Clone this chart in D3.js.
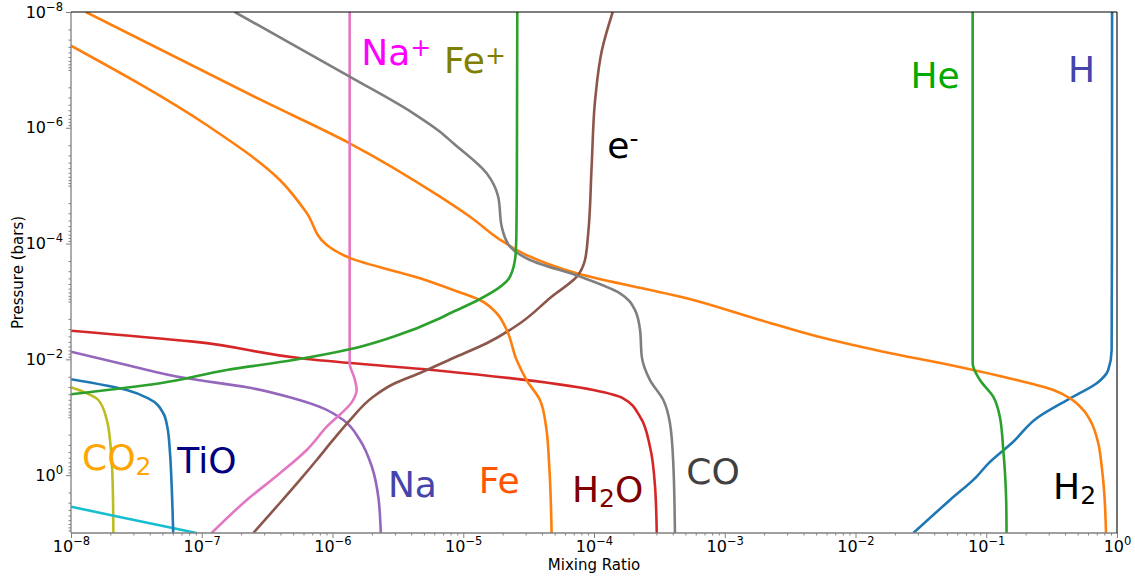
<!DOCTYPE html>
<html><head><meta charset="utf-8">
<script src="https://cdn.jsdelivr.net/npm/d3@7"></script>
<style>
body{margin:0;background:#fff}
svg text{font-family:"DejaVu Sans",sans-serif}
</style>
</head><body>
<svg id="chart" width="1135" height="576"></svg>
<script>
// ---- data: [mixing ratio, pressure (bars)] ----
const xTickExps = [-8,-7,-6,-5,-4,-3,-2,-1,0];
const yTickExps = [-8,-6,-4,-2,0];
const xDomain = [1e-8, 1];
const yDomain = [1e-8, 10];

const H = [[0.917,1e-8],[0.915,1e-4],[0.910,6.90e-3],[0.857,1.53e-2],[0.700,2.59e-2],[0.438,4.71e-2],[0.243,0.104],[0.161,0.265],[0.104,0.625],[8.45e-2,1.06],[5.28e-2,2.69],[2.77e-2,10]];
const H2 = [[1.30e-8,1e-8],[2.94e-7,3.44e-7],[1.353e-6,1.853e-6],[6.64e-6,1.55e-5],[1.126e-5,3.44e-5],[2.02e-5,9.29e-5],[3.05e-5,1.58e-4],[7.38e-5,3.27e-4],[5.12e-4,8.83e-4],[1.86e-3,2.09e-3],[5.05e-3,4.0e-3],[1.63e-2,7.38e-3],[5.28e-2,1.25e-2],[0.171,2.28e-2],[0.326,3.39e-2],[0.438,4.71e-2],[0.552,7.50e-2],[0.640,0.127],[0.719,0.282],[0.764,0.716],[0.796,1.81],[0.824,10]];
const He = [[7.87e-2,1e-8],[7.87e-2,1e-4],[7.87e-2,1.17e-2],[8.95e-2,2.28e-2],[0.113,4.42e-2],[0.127,9.80e-2],[0.135,0.368],[0.142,2.69],[0.143,10]];
const H2O = [[1e-8,3.20e-3],[8.61e-8,4.95e-3],[6.35e-7,9.86e-3],[6.64e-6,1.57e-2],[9.89e-5,3.39e-2],[1.67e-4,4.71e-2],[2.25e-4,9.80e-2],[2.68e-4,0.323],[2.93e-4,1.58],[3.02e-4,10]];
const Na = [[1e-8,7.38e-3],[2.67e-8,1.25e-2],[7.67e-8,2.13e-2],[2.21e-7,3.04e-2],[5.01e-7,4.71e-2],[8.51e-7,7.02e-2],[1.21e-6,0.112],[1.62e-6,0.247],[2.00e-6,0.716],[2.24e-6,2.36],[2.34e-6,10]];
const eMinus = [[1.39e-4,1e-8],[1.15e-4,4.53e-8],[1.02e-4,3.31e-7],[9.59e-5,4.70e-6],[9.03e-5,6.65e-5],[8.53e-5,1.92e-4],[7.38e-5,3.73e-4],[4.74e-5,8.28e-4],[2.72e-5,2.38e-3],[1.51e-5,5.28e-3],[8.40e-6,9.48e-3],[4.67e-6,1.72e-2],[2.92e-6,2.67e-2],[2.05e-6,4.42e-2],[1.36e-6,0.112],[1.01e-6,0.247],[7.57e-7,0.548],[5.64e-7,1.21],[3.74e-7,3.51],[2.48e-7,10]];
const NaPlus = [[1.353e-6,1e-8],[1.353e-6,1e-4],[1.353e-6,1.17e-2],[1.47e-6,2.10e-2],[1.53e-6,3.39e-2],[1.44e-6,5.04e-2],[9.04e-7,0.146],[6.35e-7,0.368],[3.96e-7,0.931],[2.21e-7,2.69],[1.19e-7,10]];
const CO = [[1.79e-7,1e-8],[1.353e-6,1.31e-7],[4.15e-6,5.62e-7],[6.64e-6,1.17e-6],[8.40e-6,1.853e-6],[1.51e-5,6.11e-6],[1.85e-5,1.55e-5],[1.97e-5,5.12e-5],[2.28e-5,1.13e-4],[3.24e-5,1.92e-4],[7.82e-5,3.73e-4],[1.58e-4,7.23e-4],[2.06e-4,1.41e-3],[2.25e-4,3.11e-3],[2.32e-4,8.99e-3],[2.68e-4,2.28e-2],[3.39e-4,5.04e-2],[3.81e-4,0.127],[4.04e-4,0.625],[4.16e-4,10]];
const CO2 = [[1e-8,3.04e-2],[1.24e-8,3.62e-2],[1.62e-8,5.04e-2],[1.88e-8,0.112],[2.01e-8,0.323],[2.08e-8,1.21],[2.11e-8,10]];
const TiO2 = [[1e-8,3.51],[1.99e-8,4.88],[9.14e-8,10]];
const TiO = [[1e-8,2.21e-2],[2.67e-8,3.39e-2],[3.90e-8,4.71e-2],[5.08e-8,8.55e-2],[5.45e-8,0.146],[5.72e-8,0.420],[5.89e-8,1.58],[6.05e-8,10]];
const Fe = [[1e-8,3.82e-8],[1.09e-7,8.95e-7],[3.96e-7,7.98e-6],[6.35e-7,2.96e-5],[9.04e-7,1.06e-4],[1.353e-6,1.77e-4],[4.67e-6,3.98e-4],[8.40e-6,6.34e-4],[1.34e-5,9.44e-4],[1.80e-5,1.60e-3],[2.15e-5,3.11e-3],[2.56e-5,1.03e-2],[3.05e-5,2.28e-2],[3.86e-5,5.04e-2],[4.30e-5,0.146],[4.55e-5,0.716],[4.74e-5,10]];
const FePlus = [[2.59e-5,1e-8],[2.57e-5,1e-5],[2.55e-5,6.58e-5],[2.52e-5,1.46e-4],[2.28e-5,3.73e-4],[1.30e-5,9.44e-4],[7.93e-6,1.60e-3],[6.64e-6,1.95e-3],[2.92e-6,4.06e-3],[1.353e-6,6.71e-3],[5.01e-7,1.03e-2],[1.55e-7,1.53e-2],[4.80e-8,2.59e-2],[1e-8,4.02e-2]];

// plotting order (matplotlib colour cycle order)
const seriesList = [H, H2, He, H2O, Na, eMinus, NaPlus, CO, CO2, TiO2, TiO, Fe, FePlus];

// label texts: [main, script, kind]  and anchor (mixing ratio, pressure)
const labelTexts = [["Na","+","sup"],["Fe","+","sup"],["e","-","sup"],["He","",""],["H","",""],["CO","2","sub"],["TiO","",""],["Na","",""],["Fe","",""],["H","2","subO"],["CO","",""],["H","2","sub"]];
const labelAt = [[1.72e-6,8.23e-8],[7.38e-6,1.12e-7],[1.31e-4,3.37e-6],[2.73e-2,2.08e-7],[0.438,1.60e-7],[1.26e-8,0.815],[6.73e-8,0.908],[2.75e-6,2.42],[1.36e-5,2.06],[7.03e-5,2.88],[5.26e-4,1.42],[0.336,2.62]];

// ---- styles ----
const palette = ["#1f77b4","#ff7f0e","#2ca02c","#d62728","#9467bd","#8c564b","#e377c2","#7f7f7f","#bcbd22","#17becf"];
const labelColors = ["#ff00ff","#808000","#000000","#00aa00","#4444aa","#ffa500","#000080","#4444aa","#ff5500","#800000","#404040","#000000"];

const W = 1135, Hh = 576;
const m = {left:71, top:12, right:1117, bottom:533};
const svg = d3.select("#chart");
const x = d3.scaleLog().domain(xDomain).range([m.left, m.right]);
const y = d3.scaleLog().domain(yDomain).range([m.top, m.bottom]);

svg.append("defs").append("clipPath").attr("id","clip")
  .append("rect").attr("x",m.left).attr("y",m.top).attr("width",m.right-m.left).attr("height",m.bottom-m.top);

const line = d3.line().x(d=>x(d[0])).y(d=>y(d[1])).curve(d3.curveMonotoneY);
const g = svg.append("g").attr("clip-path","url(#clip)");
seriesList.forEach((s,i)=>{
  g.append("path").attr("d",line(s)).attr("fill","none")
   .attr("stroke",palette[i%10]).attr("stroke-width",2.6)
   .attr("stroke-linejoin","round").attr("stroke-linecap","butt");
});

// labels
const lg = svg.append("g");
labelTexts.forEach((lt,i)=>{
  const t = lg.append("text").attr("x",x(labelAt[i][0])-2).attr("y",y(labelAt[i][1]))
    .attr("fill",labelColors[i]).attr("font-size",36);
  t.append("tspan").text(lt[0]);
  if(lt[2]==="sup"){
    t.append("tspan").attr("font-size",25).attr("dy", lt[1]==="-" ? -11 : -9).text(lt[1]);
  } else if(lt[2]==="sub"){
    t.append("tspan").attr("font-size",25).attr("dy",5).text(lt[1]);
  } else if(lt[2]==="subO"){
    t.append("tspan").attr("font-size",25).attr("dy",5).text(lt[1]);
    t.append("tspan").attr("dy",-5).text("O");
  }
});

// axes
function sciLabel(sel){
  sel.each(function(d){
    const t = d3.select(this);
    const e = Math.round(Math.log10(d));
    t.text(null);
    t.append("tspan").text("10");
    t.append("tspan").attr("font-size","11.5px").attr("dy","-0.62em").text(e<0 ? "\u2212"+(-e) : String(e));
  });
}
const xMajor = xTickExps.map(e=>Math.pow(10,e));
const yMajor = yTickExps.map(e=>Math.pow(10,e));
const xMinor = [], yMinor = [];
for(let e=-8;e<0;e++) for(let k=2;k<=9;k++) xMinor.push(k*Math.pow(10,e));
for(let e=-8;e<1;e++) for(let k=(yTickExps.includes(e)?2:1);k<=9;k++){ const v=k*Math.pow(10,e); if(v<=10) yMinor.push(v);}

const axisColor = "#808080";
const gxMinor = svg.append("g").attr("transform",`translate(0,${m.bottom})`)
  .call(d3.axisBottom(x).tickValues(xMinor).tickSize(2.5).tickFormat(""));
const gx = svg.append("g").attr("transform",`translate(0,${m.bottom})`)
  .call(d3.axisBottom(x).tickValues(xMajor).tickSize(5).tickPadding(3));
gx.selectAll(".tick text").attr("font-size",16).attr("fill","#000").call(sciLabel);

const gyMinor = svg.append("g").attr("transform",`translate(${m.left},0)`)
  .call(d3.axisLeft(y).tickValues(yMinor).tickSize(2.5).tickFormat(""));
const gy = svg.append("g").attr("transform",`translate(${m.left},0)`)
  .call(d3.axisLeft(y).tickValues(yMajor).tickSize(5).tickPadding(3));
gy.selectAll(".tick text").attr("font-size",16).attr("fill","#000").call(sciLabel);

[gxMinor,gx,gyMinor,gy].forEach(a=>{
  a.select(".domain").remove();
  a.selectAll(".tick line").attr("stroke",axisColor).attr("stroke-width",1);
  a.selectAll("text").style("font-family","'DejaVu Sans',sans-serif");
});

// spines
svg.append("line").attr("x1",m.left).attr("x2",m.right).attr("y1",m.bottom).attr("y2",m.bottom).attr("stroke",axisColor).attr("stroke-width",1.3);
svg.append("line").attr("x1",m.left).attr("x2",m.left).attr("y1",m.top).attr("y2",m.bottom).attr("stroke",axisColor).attr("stroke-width",1.3);
svg.append("line").attr("x1",m.left).attr("x2",m.right).attr("y1",m.top).attr("y2",m.top).attr("stroke","#000").attr("stroke-width",1.1);
svg.append("line").attr("x1",m.right).attr("x2",m.right).attr("y1",m.top).attr("y2",m.bottom).attr("stroke","#000").attr("stroke-width",1.1);

// axis titles
svg.append("text").attr("x",(m.left+m.right)/2).attr("y",570).attr("text-anchor","middle")
  .attr("font-size",15).text("Mixing Ratio");
svg.append("text").attr("transform",`translate(23,${(m.top+m.bottom)/2}) rotate(-90)`).attr("text-anchor","middle")
  .attr("font-size",15).text("Pressure (bars)");
</script>
</body></html>
